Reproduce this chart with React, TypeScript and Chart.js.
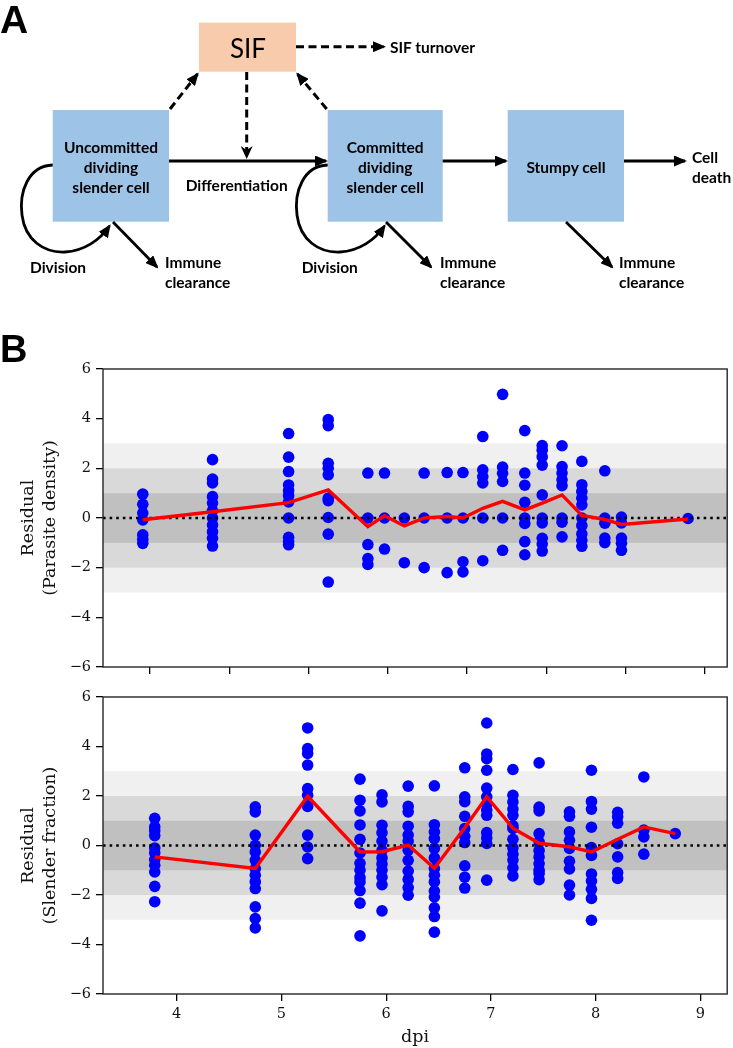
import React, { useEffect, useRef } from 'react';
import { Chart, registerables } from 'chart.js';
Chart.register(...registerables);

// ---------- Panel B data ----------
// Top panel: residuals of parasite density, one array per sampling day
const topDpi = [2.91, 3.79, 4.75, 5.25, 5.75, 5.96, 6.21, 6.46, 6.75, 6.95, 7.2, 7.45, 7.73, 7.95, 8.2, 8.45, 8.74, 8.95, 9.79];
const topResiduals = [
  [0.96, 0.55, 0.2, -0.08, -0.68, -0.86, -1.02],
  [2.35, 1.57, 1.41, 0.86, 0.6, 0.3, 0.0, -0.28, -0.55, -0.82, -1.13],
  [3.4, 2.45, 1.87, 1.33, 1.1, 0.9, 0.65, 0.0, -0.78, -0.95, -1.08],
  [3.96, 3.72, 2.2, 2.0, 1.74, 0.8, 0.7, 0.02, -0.65, -2.58],
  [1.81, 0.0, -1.07, -1.63, -1.87],
  [1.81, 0.0, -1.25],
  [0.0, -1.8],
  [1.81, 0.0, -2.0],
  [1.83, 0.0, -2.2],
  [1.83, 0.0, -1.76, -2.17],
  [3.28, 1.94, 1.67, 1.41, 0.0, -1.72],
  [4.98, 2.05, 1.8, 1.47, 0.0, -1.3],
  [3.52, 1.81, 1.32, 0.63, 0.0, -0.22, -0.95, -1.48],
  [2.92, 2.73, 2.46, 2.13, 0.93, 0.0, -0.2, -0.82, -1.05, -1.33],
  [2.91, 2.07, 1.81, 1.54, 1.3, 0.0, -0.17, -0.76],
  [2.28, 1.34, 1.07, 0.8, 0.53, 0.0, -0.3, -0.64, -0.9, -1.14],
  [1.9, 0.0, -0.21, -0.81, -0.99],
  [0.04, -0.2, -0.81, -1.02, -1.3],
  [-0.02],
];
const topMean = [-0.07, 0.25, 0.62, 1.13, -0.35, 0.09, -0.32, 0.0, 0.06, 0.0, 0.39, 0.67, 0.33, 0.6, 0.93, 0.1, -0.06, -0.26, -0.04];

// Bottom panel: residuals of slender fraction
const bottomDpi = [3.79, 4.75, 5.25, 5.75, 5.96, 6.21, 6.46, 6.75, 6.96, 7.21, 7.46, 7.75, 7.96, 8.21, 8.46, 8.76];
const bottomResiduals = [
  [1.1, 0.75, 0.6, 0.4, -0.1, -0.3, -0.57, -0.8, -1.07, -1.65, -2.27],
  [1.56, 1.36, 0.42, 0.01, -0.26, -0.59, -0.93, -1.2, -1.47, -1.74, -2.48, -2.95, -3.33],
  [4.75, 3.92, 3.72, 3.25, 2.3, 2.03, 1.58, 0.42, -0.06, -0.53],
  [2.68, 1.83, 1.4, 0.83, 0.25, -0.3, -0.72, -1.0, -1.29, -1.47, -1.82, -2.33, -3.65],
  [2.05, 1.76, 0.82, 0.52, 0.18, -0.2, -0.5, -0.75, -1.0, -1.28, -1.58, -2.64],
  [2.4, 1.58, 1.36, 0.78, 0.42, 0.18, -0.19, -0.6, -1.03, -1.37, -1.7, -2.01],
  [2.41, 0.84, 0.55, 0.28, -0.12, -0.5, -0.93, -1.2, -1.47, -1.84, -2.08, -2.52, -2.87, -3.5],
  [3.14, 1.97, 1.77, 1.18, 0.68, 0.37, 0.12, -0.82, -1.28, -1.72],
  [4.95, 3.7, 3.51, 3.04, 2.32, 1.97, 1.67, 1.43, 1.22, 0.52, 0.3, 0.08, -1.4],
  [3.07, 2.03, 1.76, 1.47, 1.22, 0.8, 0.69, 0.25, -0.1, -0.35, -0.59, -0.9, -1.23],
  [3.34, 1.55, 1.4, 0.48, 0.15, -0.2, -0.46, -0.73, -1.0, -1.13, -1.38],
  [1.36, 1.18, 0.55, 0.21, -0.12, -0.64, -0.95, -1.6, -2.0],
  [3.04, 1.78, 1.47, 0.74, -0.08, -0.4, -1.15, -1.43, -1.77, -2.14, -3.02],
  [1.34, 1.16, 0.9, 0.07, -0.46, -1.09, -1.33],
  [2.77, 0.62, 0.35, -0.35],
  [0.48],
];
const bottomMean = [-0.46, -0.93, 1.99, -0.26, -0.25, 0.02, -0.92, 0.72, 1.97, 0.7, 0.09, -0.05, -0.26, 0.25, 0.75, 0.48];

const topXTicks = [3, 4, 5, 6, 7, 8, 9, 10];
const bottomXTicks = [4, 5, 6, 7, 8, 9];
const yTicks = [-6, -4, -2, 0, 2, 4, 6];
const bandLevels = [3, 2, 1];
const bandColors = ['#f0f0f0', '#d9d9d9', '#c0c0c0'];

const bandsPlugin = {
  id: 'bands',
  beforeDatasetsDraw(chart: any) {
    const { ctx, chartArea } = chart;
    const y = chart.scales.y;
    ctx.save();
    bandLevels.forEach((lv, i) => {
      const y1 = y.getPixelForValue(lv);
      const y2 = y.getPixelForValue(-lv);
      ctx.fillStyle = bandColors[i];
      ctx.fillRect(chartArea.left, y1, chartArea.right - chartArea.left, y2 - y1);
    });
    ctx.restore();
  },
};

const framePlugin = {
  id: 'frame',
  afterDraw(chart: any) {
    const { ctx, chartArea } = chart;
    ctx.save();
    ctx.strokeStyle = '#262626';
    ctx.lineWidth = 1.4;
    ctx.strokeRect(chartArea.left, chartArea.top, chartArea.right - chartArea.left, chartArea.bottom - chartArea.top);
    ctx.restore();
  },
};

const minus = (v: number) => (v < 0 ? '\u2212' + Math.abs(v) : String(v));

function zeroPad(s: any) {
  s.paddingTop = 0;
  s.paddingBottom = 0;
  s.paddingLeft = 0;
  s.paddingRight = 0;
}

type ChartProps = {
  top: number;
  height: number;
  dpi: number[];
  residuals: number[][];
  means: number[];
  xMin: number;
  xMax: number;
  xTicks: number[];
  showXLabels: boolean;
  yTitle: string[];
  xTitle?: string;
  padTop: number;
  xAxisHeight: number;
};

function ResidualChart(p: ChartProps) {
  const ref = useRef<HTMLCanvasElement>(null);
  useEffect(() => {
    if (!ref.current) return;
    const points = p.dpi.flatMap((x, i) => p.residuals[i].map((y) => ({ x, y })));
    const chart = new Chart(ref.current, {
      type: 'scatter',
      data: {
        datasets: [
          {
            type: 'line',
            data: p.dpi.map((x, i) => ({ x, y: p.means[i] })),
            borderColor: '#ff0000',
            borderWidth: 3.4,
            pointRadius: 0,
            order: 0,
          } as any,
          {
            type: 'line',
            data: [
              { x: p.xMin, y: 0 },
              { x: p.xMax, y: 0 },
            ],
            borderColor: '#000000',
            borderWidth: 2.6,
            borderDash: [2.6, 4],
            pointRadius: 0,
            order: 1,
          } as any,
          {
            type: 'scatter',
            data: points,
            backgroundColor: '#0000ff',
            borderWidth: 0,
            pointRadius: 5.8,
            pointHoverRadius: 5.8,
            order: 2,
          } as any,
        ],
      },
      options: {
        responsive: false,
        animation: false,
        events: [],
        layout: { padding: { top: p.padTop, right: 1, left: 0, bottom: 0 } },
        plugins: { legend: { display: false }, tooltip: { enabled: false } },
        scales: {
          x: {
            type: 'linear',
            min: p.xMin,
            max: p.xMax,
            afterBuildTicks: (s: any) => {
              s.ticks = p.xTicks.map((v) => ({ value: v }));
            },
            afterFit: (s: any) => {
              s.height = p.xAxisHeight;
              zeroPad(s);
            },
            grid: { display: true, drawOnChartArea: false, drawTicks: true, tickLength: 7, color: '#000', lineWidth: 1.3 },
            border: { display: false },
            ticks: {
              display: p.showXLabels,
              color: '#111',
              font: { family: 'DejaVu Serif', size: 14.5 },
              padding: 5,
              maxRotation: 0,
              autoSkip: false,
              callback: (v: any) => minus(Number(v)),
            },
            title: p.xTitle
              ? {
                  display: true,
                  text: p.xTitle,
                  color: '#111',
                  font: { family: 'DejaVu Serif', size: 17.5, lineHeight: 1.25 },
                  padding: { top: 0, bottom: 0 },
                }
              : { display: false },
          },
          y: {
            type: 'linear',
            min: -6,
            max: 6,
            afterBuildTicks: (s: any) => {
              s.ticks = yTicks.map((v) => ({ value: v }));
            },
            afterFit: (s: any) => {
              s.width = 103;
              zeroPad(s);
            },
            grid: { display: true, drawOnChartArea: false, drawTicks: true, tickLength: 7, color: '#000', lineWidth: 1.3 },
            border: { display: false },
            ticks: {
              color: '#111',
              font: { family: 'DejaVu Serif', size: 14.5 },
              padding: 5,
              callback: (v: any) => minus(Number(v)),
            },
            title: {
              display: true,
              text: p.yTitle,
              color: '#111',
              font: { family: 'DejaVu Serif', size: 17.5, lineHeight: 1.24 },
              padding: { top: 18, bottom: 0 },
            },
          },
        },
      },
      plugins: [bandsPlugin, framePlugin],
    } as any);
    return () => chart.destroy();
  }, []);
  return (
    <canvas
      ref={ref}
      width={733}
      height={p.height}
      style={{ position: 'absolute', left: 0, top: p.top, width: 733, height: p.height, display: 'block' }}
    />
  );
}

const txt = { fontFamily: 'Lato, "Open Sans", sans-serif', fontWeight: 700, fontSize: 15.5, fill: '#000' } as const;

function Diagram() {
  const loop = 'M52.7,165 C28,166 19,192 22,215 C25,240 44,253 65,252 C84,251 100,240 109.5,226';
  return (
    <svg width={733} height={1048} style={{ position: 'absolute', left: 0, top: 0 }}>
      <defs>
        <marker id="ah" viewBox="0 0 13 11" refX="11" refY="5.5" markerWidth="13" markerHeight="11" markerUnits="userSpaceOnUse" orient="auto">
          <path d="M0,0 L13,5.5 L0,11 z" fill="#000" />
        </marker>
        <marker id="ahv" viewBox="0 0 13 12" refX="11" refY="6" markerWidth="13" markerHeight="12" markerUnits="userSpaceOnUse" orient="auto">
          <path d="M0,0 L13,6 L0,12 L4,6 z" fill="#000" />
        </marker>
      </defs>
      <text x={0} y={33} style={{ fontFamily: '"Liberation Sans", Arial, sans-serif', fontWeight: 700, fontSize: 39 }}>A</text>
      <text x={0} y={362} style={{ fontFamily: '"Liberation Sans", Arial, sans-serif', fontWeight: 700, fontSize: 38 }}>B</text>

      {/* boxes */}
      <rect x={199} y={22.7} width={97} height={49} fill="#f8cbad" />
      <rect x={52.7} y={110} width={116.3} height={111.7} fill="#9dc3e6" />
      <rect x={327.7} y={110} width={115} height={111.7} fill="#9dc3e6" />
      <rect x={507.7} y={110} width={116.3} height={111.7} fill="#9dc3e6" />

      <text x={248} y={48} textAnchor="middle" dominantBaseline="central" style={{ fontFamily: 'Lato, sans-serif', fontSize: 26, fill: '#000' }}>SIF</text>
      {['Uncommitted', 'dividing', 'slender cell'].map((t, i) => (
        <text key={'u' + i} x={111} y={146.7 + 20 * i} textAnchor="middle" dominantBaseline="central" style={txt}>{t}</text>
      ))}
      {['Committed', 'dividing', 'slender cell'].map((t, i) => (
        <text key={'c' + i} x={385.2} y={146.7 + 20 * i} textAnchor="middle" dominantBaseline="central" style={txt}>{t}</text>
      ))}
      <text x={566} y={166.7} textAnchor="middle" dominantBaseline="central" style={txt}>Stumpy cell</text>
      <text x={236.7} y={185} textAnchor="middle" dominantBaseline="central" style={txt}>Differentiation</text>
      <text x={390} y={46.7} dominantBaseline="central" style={txt}>SIF turnover</text>
      <text x={692} y={156.7} dominantBaseline="central" style={txt}>Cell</text>
      <text x={692} y={176.7} dominantBaseline="central" style={txt}>death</text>
      <text x={30} y={266.7} dominantBaseline="central" style={txt}>Division</text>
      <text x={301.7} y={266.7} dominantBaseline="central" style={txt}>Division</text>
      {[165, 440, 619].map((x) => (
        <g key={'im' + x}>
          <text x={x} y={261.7} dominantBaseline="central" style={txt}>Immune</text>
          <text x={x} y={281.7} dominantBaseline="central" style={txt}>clearance</text>
        </g>
      ))}

      {/* solid arrows */}
      <g stroke="#000" strokeWidth={2.8} fill="none">
        <line x1={169} y1={161} x2={326} y2={161} markerEnd="url(#ah)" />
        <line x1={442.7} y1={161} x2={506} y2={161} markerEnd="url(#ah)" />
        <line x1={624} y1={161} x2={685} y2={161} markerEnd="url(#ah)" />
        <line x1={113} y1={222} x2={157} y2={267} markerEnd="url(#ah)" />
        <line x1={386} y1={222} x2={431} y2={267} markerEnd="url(#ah)" />
        <line x1={566} y1={222} x2={612} y2={267} markerEnd="url(#ah)" />
        <path d={loop} markerEnd="url(#ah)" />
        <path d={loop} transform="translate(275,0)" markerEnd="url(#ah)" />
      </g>
      {/* dashed arrows */}
      <g stroke="#000" strokeWidth={3} fill="none" strokeDasharray="8 4.5">
        <line x1={246.7} y1={72} x2={246.7} y2={157} markerEnd="url(#ahv)" />
        <line x1={170} y1={109} x2={197.5} y2={74} markerEnd="url(#ah)" />
        <line x1={326.7} y1={109} x2={297.5} y2={74} markerEnd="url(#ah)" />
        <line x1={296} y1={46.7} x2={384} y2={46.7} markerEnd="url(#ah)" />
      </g>
    </svg>
  );
}

export default function App() {
  return (
    <div style={{ position: 'absolute', left: 0, top: 0, width: 733, height: 1048, overflow: 'hidden', background: '#fff' }}>
      <ResidualChart
        top={349}
        height={332}
        dpi={topDpi}
        residuals={topResiduals}
        means={topMean}
        xMin={2.408}
        xMax={10.284}
        xTicks={topXTicks}
        showXLabels={false}
        yTitle={['Residual', '(Parasite density)']}
        padTop={20}
        xAxisHeight={14}
      />
      <ResidualChart
        top={681}
        height={367}
        dpi={bottomDpi}
        residuals={bottomResiduals}
        means={bottomMean}
        xMin={3.296}
        xMax={9.256}
        xTicks={bottomXTicks}
        showXLabels={true}
        yTitle={['Residual', '(Slender fraction)']}
        xTitle="dpi"
        padTop={16}
        xAxisHeight={54}
      />
      <Diagram />
    </div>
  );
}
